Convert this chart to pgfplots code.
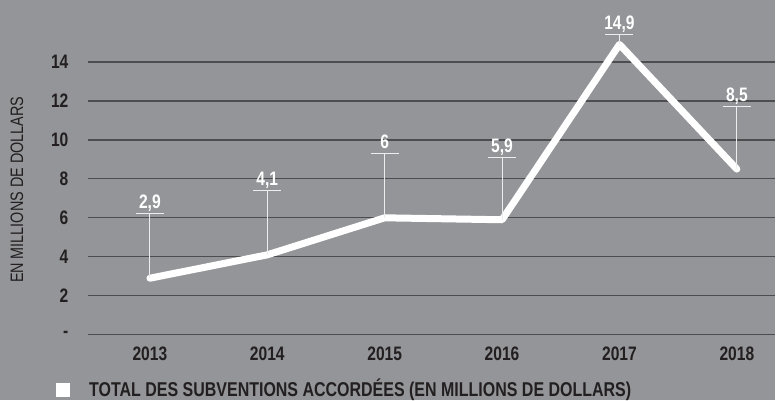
\documentclass[border=0pt]{standalone}
\usepackage{pgfplots}
\pgfplotsset{compat=1.18}
\usepackage{fontspec}
\setmainfont{Liberation Sans}[FakeStretch=0.8]
\definecolor{bg}{HTML}{939598}
\definecolor{gridc}{HTML}{4D4D4F}
\definecolor{txt}{HTML}{231F20}
\definecolor{callc}{HTML}{EDEDED}
\begin{document}
\begin{tikzpicture}[x=1pt,y=1pt]
\fill[bg] (0,0) rectangle (776,400);
\begin{axis}[
  at={(88pt,65pt)}, anchor=south west, scale only axis,
  width=688pt, height=312pt,
  xmin=-0.528, xmax=5.328, ymin=0, ymax=16,
  axis line style={draw=none},
  major tick length=0pt,
  ymajorgrids, grid style={gridc, line width=1.3pt},
  ytick={0,2,4,6,8,10,12,14},
  yticklabels={-,2,4,6,8,10,12,14},
  xtick={0,1,2,3,4,5},
  xticklabels={2013,2014,2015,2016,2017,2018},
  tick label style={font=\bfseries\fontsize{19.5}{19.5}\selectfont, text=txt},
  yticklabel style={anchor=east, xshift=-16pt},
  xticklabel style={anchor=base, yshift=-26pt},
  clip=false,
]
\addplot[white, line width=7pt, line cap=round, line join=round] coordinates {
(0,2.9) (1,4.1) (2,6.0) (3,5.9) (4,14.9) (5,8.5)};
\foreach \xx/\yy/\tt/\lab in {0/2.9/6.2/{2,9},1/4.1/7.4/{4,1},2/6.0/9.3/{6},3/5.9/9.1/{5,9},4/14.9/15.4/{14,9},5/8.5/11.7/{8,5}}{
  \edef\tmp{\noexpand\draw[callc, line width=0.9pt] (axis cs:\xx,\yy) -- (axis cs:\xx,\tt);
  \noexpand\draw[callc, line width=0.9pt] ([xshift=-14pt]axis cs:\xx,\tt) -- ([xshift=14pt]axis cs:\xx,\tt);
  \noexpand\node[anchor=base, text=white, font=\noexpand\bfseries\noexpand\fontsize{19.5}{19.5}\noexpand\selectfont, yshift=5pt] at (axis cs:\xx,\tt) {\lab};}
  \tmp
}
\end{axis}
\node[rotate=90, text=txt, font=\fontsize{18}{18}\selectfont] at (17,210) {EN MILLIONS DE DOLLARS};
\fill[white] (56,3) rectangle (70,17);
\node[anchor=base west, text=txt, font=\bfseries\fontsize{20}{20}\selectfont, inner sep=0pt] at (89,3.5) {TOTAL DES SUBVENTIONS ACCORDÉES (EN MILLIONS DE DOLLARS)};
\end{tikzpicture}
\end{document}
